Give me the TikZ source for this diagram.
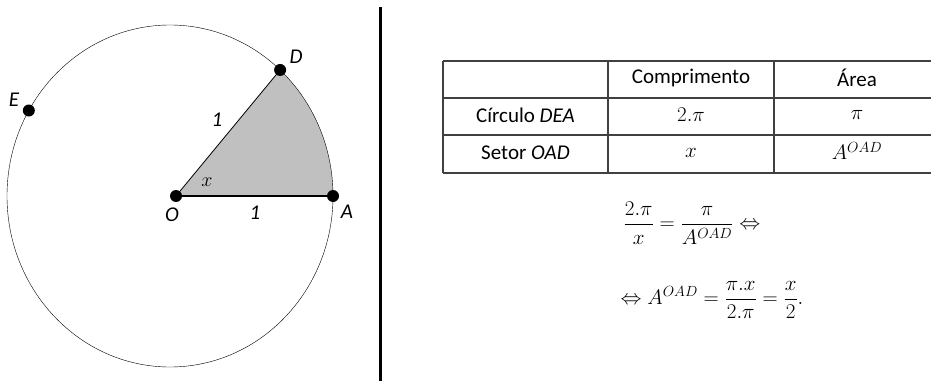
\documentclass[tikz,border=0pt]{standalone}
\usepackage{fix-cm}
\usepackage{amsmath}
\usepackage{fontspec}
\setmainfont{Carlito}
\usepackage{tikz}
\usetikzlibrary{calc}

\definecolor{sectorgray}{RGB}{192,192,192}
\definecolor{gridgray}{RGB}{64,64,64}

\tikzset{
    ponto/.style={circle, fill=black, inner sep=0pt, minimum size=12pt},
    rotulo/.style={font=\fontsize{21}{25}\selectfont\itshape},
    celula/.style={inner sep=0pt},
}

\begin{document}
\begin{tikzpicture}[x=1pt, y=1pt, font=\fontsize{21}{25}\selectfont]
        % ============================================================
        % jednostka = 1 px obrazu, os y w gore
        % ============================================================
        \useasboundingbox (0,0) rectangle (931,381);

        % === OKRAG (lekko eliptyczny) ===
        \coordinate (C) at (170,185);
        \coordinate (O) at (176,185);
        \coordinate (A) at ($(C)+(0:163 and 171)$);
        \coordinate (D) at ($(C)+(47.5:163 and 171)$);
        \coordinate (E) at ($(C)+(150:163 and 171)$);

        % === WYCINEK OAD ===
        \fill[sectorgray] (O) -- (A)
            arc[start angle=0, end angle=47.5, x radius=163pt, y radius=171pt]
            -- cycle;
        \draw[thin] (C) ellipse[x radius=163pt, y radius=171pt];
        \draw[line width=1.3pt] (O) -- (A);
        \draw[line width=0.8pt] (O) -- (D);

        % === PUNKTY ===
        \foreach \p in {O,A,D,E} {
            \node[ponto] (p\p) at (\p) {};
        }
        \node[rotulo] (lblD) at (296,324) {D};
        \node[rotulo] (lblE) at (14,281) {E};
        \node[rotulo] (lblO) at (172,166) {O};
        \node[rotulo] (lblA) at (347,169) {A};
        \node[rotulo] (lblOD) at (217,261) {1};
        \node[rotulo] (lblOA) at (255,168) {1};
        \node[font=\fontsize{20}{24}\selectfont] (lblx) at (207,199) {$x$};

        % === LINIA PODZIALU ===
        \draw[line width=3pt] (380,0) -- (380,374);

        % === TABELA ===
        \draw[gridgray, line width=1.2pt] (443,320) -- (931,320);
        \foreach \y in {283,246,208} {
            \draw[gridgray, line width=1.2pt] (443,\y) -- (931,\y);
        }
        \foreach \x in {443,608,774} {
            \draw[gridgray, line width=1.2pt] (\x,320) -- (\x,208);
        }
        \node[celula] (hdrComp) at (691,303) {Comprimento};
        \node[celula] (hdrArea) at (857,303) {Área};
        \node[celula] (rowCirc) at (525.5,266) {Círculo \textit{DEA}};
        \node[celula] (rowSet) at (525.5,228) {Setor \textit{OAD}};
        \node[celula] (circComp) at (691,266) {$2.\pi$};
        \node[celula] (circArea) at (857,266) {$\pi$};
        \node[celula] (setComp) at (691,228) {$x$};
        \node[celula] (setArea) at (857,230) {$A^{OAD}$};

        % === ROWNANIA ===
        \node (eqOne) at (692,158) {$\dfrac{2.\pi}{x}=\dfrac{\pi}{A^{OAD}}\Leftrightarrow$};
        \node (eqTwo) at (712,81) {$\Leftrightarrow A^{OAD}=\dfrac{\pi.x}{2.\pi}=\dfrac{x}{2}.$};

    \end{tikzpicture}
\end{document}
